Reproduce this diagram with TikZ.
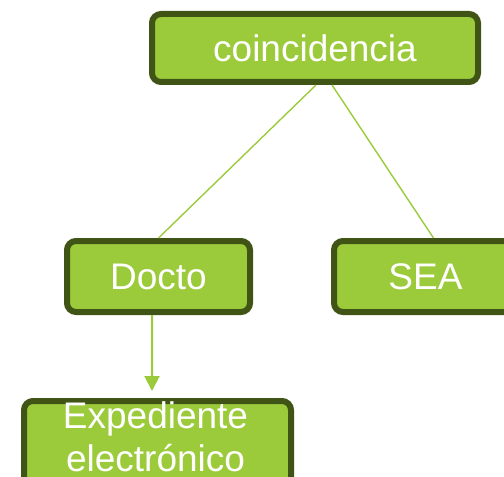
\documentclass[tikz,border=0pt]{standalone}
\usepackage{fontspec}
\setmainfont{Liberation Sans}
\usetikzlibrary{arrows.meta}
\definecolor{boxfill}{RGB}{155,203,59}
\definecolor{boxedge}{RGB}{64,84,22}
\definecolor{linkgreen}{RGB}{155,203,59}
\tikzset{
  box/.style={draw=boxedge, line width=6bp, fill=boxfill, rounded corners=9bp,
    text=white, font=\fontsize{37bp}{43bp}\selectfont, inner sep=0pt, anchor=north west},
  link/.style={draw=linkgreen, line width=1.4bp},
  arrowlink/.style={draw=linkgreen, line width=2bp, -{Triangle[width=15bp,length=15bp]}}
}
\begin{document}
\begin{tikzpicture}[x=1bp,y=-1bp]
\useasboundingbox (0,0) rectangle (504,477);
\clip (0,0) rectangle (504,477);
\node[box, minimum width=326bp, minimum height=68bp] (coinc) at (149,11) {coincidencia};
\node[box, minimum width=183bp, minimum height=71bp] (docto) at (64,238) {Docto};
\node[box, minimum width=183bp, minimum height=71bp] (sea) at (331,238) {SEA};
\node[box, minimum width=267bp, minimum height=100bp] (exp) at (21,398) {};
\node[text=white, font=\fontsize{37bp}{43bp}\selectfont, align=center, anchor=base, inner sep=0pt] (explabel) at (155.5,471) {Expediente\\electrónico};
\draw[link] ([xshift=1bp]coinc.south) -- (docto.north);
\draw[link] ([xshift=17bp]coinc.south) -- ([xshift=8bp]sea.north);
\draw[arrowlink] ([xshift=-6.5bp]docto.south) -- ([xshift=-5.5bp,yshift=7bp]exp.north);
\end{tikzpicture}
\end{document}
